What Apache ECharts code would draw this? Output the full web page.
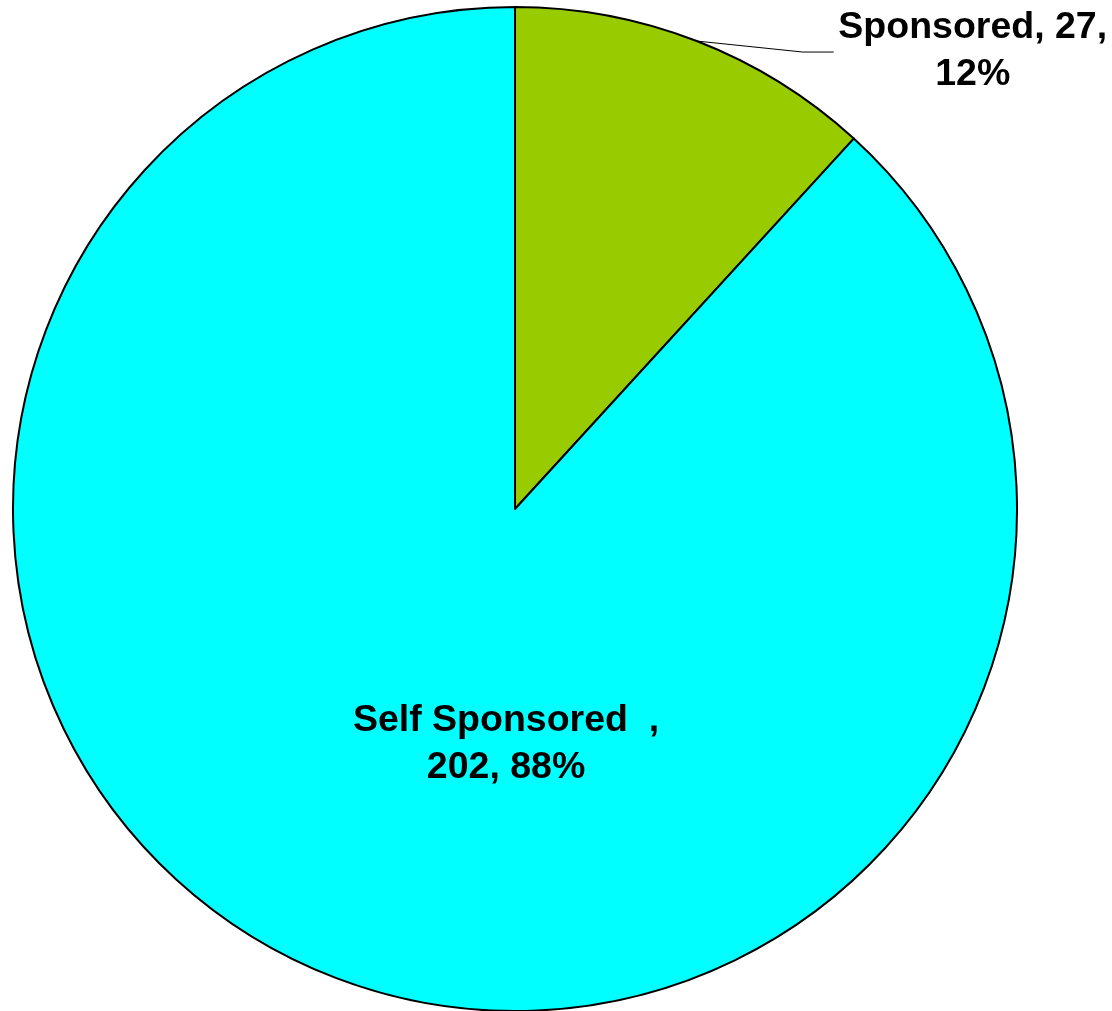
<!DOCTYPE html>
<html>
<head>
<meta charset="utf-8">
<script src="https://cdn.jsdelivr.net/npm/echarts@6/dist/echarts.min.js"></script>
<style>
html,body{margin:0;padding:0;background:#fff;}
#main{width:1112px;height:1011px;}
</style>
</head>
<body>
<div id="main"></div>
<script>
const categories = ['Sponsored', 'Self Sponsored  '];
const values = [27, 202];
const colors = ['#99CC00', '#00FFFF'];

const chart = echarts.init(document.getElementById('main'), null, {renderer: 'canvas'});
const total = values.reduce((a, b) => a + b, 0);
const pct = v => Math.round(v / total * 100);

const labelFont = {
  fontFamily: '"Liberation Sans", Arial, sans-serif',
  fontWeight: 'bold',
  fontSize: 37.5,
  lineHeight: 47,
  color: '#000'
};

const data = categories.map((name, i) => {
  const item = {
    name: name,
    value: values[i],
    itemStyle: {color: colors[i]}
  };
  if (i === 0) {
    item.label = Object.assign({
      show: true,
      position: 'outside',
      align: 'center',
      formatter: p => `${p.name}, ${p.value},\n${pct(p.value)}%`
    }, labelFont);
    item.labelLine = {show: true, length: 10, length2: 10, lineStyle: {color: '#000', width: 1}};
  } else {
    item.label = Object.assign({
      show: true,
      position: 'inside',
      align: 'center',
      formatter: p => `${p.name},\n${p.value}, ${pct(p.value)}%`
    }, labelFont);
    item.labelLine = {show: false};
  }
  return item;
});

chart.setOption({
  backgroundColor: '#fff',
  animation: false,
  series: [{
    type: 'pie',
    center: [515, 509],
    radius: 502,
    startAngle: 90,
    clockwise: true,
    avoidLabelOverlap: false,
    itemStyle: {borderColor: '#000', borderWidth: 2},
    emphasis: {disabled: true},
    data: data,
    labelLayout: function (params) {
      if (params.dataIndex === 0) {
        const p0 = params.labelLinePoints[0];
        return {
          x: p0[0] + 276,
          y: p0[1] + 10,
          align: 'center',
          verticalAlign: 'middle',
          labelLinePoints: [
            [p0[0], p0[1]],
            [p0[0] + 106, p0[1] + 11],
            [p0[0] + 137, p0[1] + 11]
          ]
        };
      }
      return {dx: 83, dy: -2};
    }
  }]
});
</script>
</body>
</html>
